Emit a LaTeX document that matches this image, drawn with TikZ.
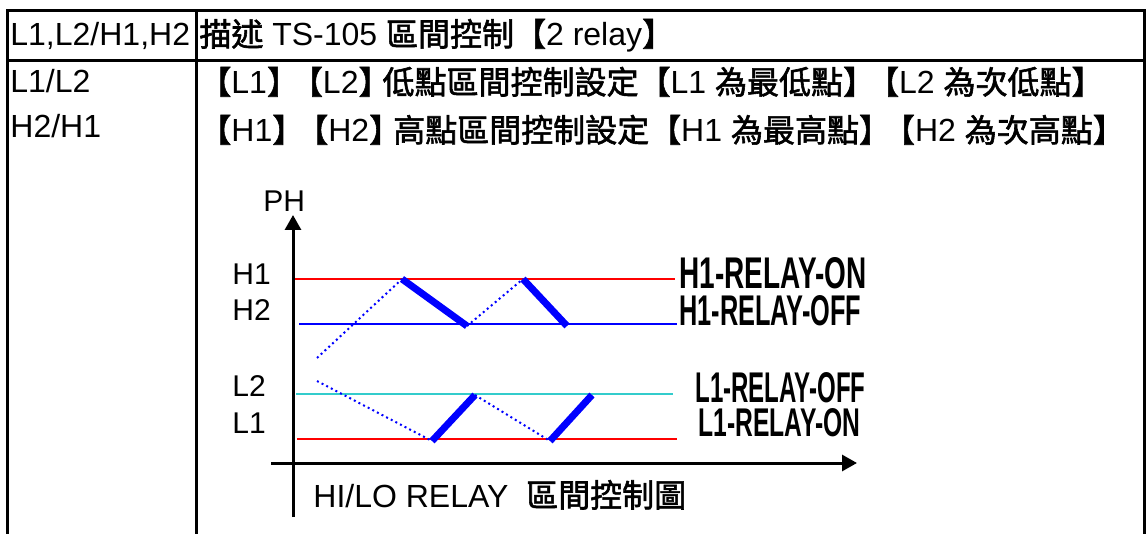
\documentclass[tikz,border=0pt]{standalone}
\usepackage{fontspec}
\usetikzlibrary{arrows.meta}
\setmainfont{Liberation Sans}
\newfontfamily\cjk{Noto Sans CJK TC}[FakeBold=1.8]
\newcommand{\zh}[1]{{\cjk #1}}
\newcommand{\bk}{\hspace{-0.25em}}
\tikzset{
  frame/.style={line width=1.5pt, black},
  txt/.style={anchor=base west, inner sep=0pt, font=\fontsize{16pt}{18pt}\selectfont},
  axislbl/.style={anchor=base west, inner sep=0pt, font=\fontsize{15pt}{17pt}\selectfont},
  axis/.style={line width=1.5pt, -{Triangle[length=7.5pt,width=8pt]}},
  lvlred/.style={line width=1pt, red},
  lvlblue/.style={line width=1pt, blue},
  lvlcyan/.style={line width=1pt, color={rgb,255:red,51;green,204;blue,204}},
  relayon/.style={line width=3.5pt, blue},
  relaydot/.style={line width=1pt, blue, dash pattern=on 1pt off 1.6pt},
  relaylbl/.style={anchor=base west, inner sep=0pt, font=\bfseries}
}
\begin{document}
\begin{tikzpicture}[x=0.5pt,y=-0.5pt]
\useasboundingbox (0,0) rectangle (1146,534);
% table frame
\coordinate (tl) at (7,11);
\coordinate (tr) at (1144,11);
\coordinate (bl) at (7,534);
\coordinate (br) at (1144,534);
\coordinate (ct) at (196,11);
\coordinate (cb) at (196,534);
\coordinate (rl) at (7,61);
\coordinate (rr) at (1144,61);
\draw[frame] (bl) -- (tl) -- (tr) -- (br);
\draw[frame] (ct) -- (cb);
\draw[frame] (rl) -- (rr);
% header row
\node[txt] (h1) at (10,46) {L1,L2/H1,H2};
\node[txt] (h2) at (199,46) {\zh{描述} TS-105 \zh{區間控制【}2 relay\zh{】}};
% second row texts
\node[txt] (r1) at (10,93) {L1/L2};
\node[txt] (r2) at (10,138) {H2/H1};
\node[txt] (d1) at (199,94) {\zh{【}L1\zh{】}\bk\zh{【}L2\zh{】}\bk\zh{低點區間控制設定【}L1 \zh{為最低點】}\bk\zh{【}L2 \zh{為次低點】}};
\node[txt] (d2) at (199,142) {\zh{【}H1\zh{】}\bk\zh{【}H2\zh{】}\bk\zh{高點區間控制設定【}H1 \zh{為最高點】}\bk\zh{【}H2 \zh{為次高點】}};
% chart axes
\coordinate (yb) at (293,517);
\coordinate (yt) at (293,215);
\coordinate (xl) at (271,463);
\coordinate (xr) at (857,463);
\draw[axis] (yb) -- (yt);
\draw[axis] (xl) -- (xr);
\node[axislbl] (ph) at (263,212) {PH};
\node[axislbl] (lh1) at (232,285) {H1};
\node[axislbl] (lh2) at (232,321) {H2};
\node[axislbl] (ll2) at (232,396) {L2};
\node[axislbl] (ll1) at (232,433) {L1};
% level lines
\coordinate (a1) at (295,279); \coordinate (a2) at (675,279);
\coordinate (b1) at (299,324); \coordinate (b2) at (677,324);
\coordinate (c1) at (296,394); \coordinate (c2) at (673,394);
\coordinate (e1) at (297,439); \coordinate (e2) at (677,439);
\draw[lvlred] (a1) -- (a2);
\draw[lvlblue] (b1) -- (b2);
\draw[lvlcyan] (c1) -- (c2);
\draw[lvlred] (e1) -- (e2);
% high relay trace
\coordinate (hs) at (317,358);
\coordinate (hp1) at (402,279);
\coordinate (hv1) at (467,326);
\coordinate (hp2) at (523,279);
\coordinate (hv2) at (567,326);
\draw[relaydot] (hs) -- (hp1);
\draw[relayon] (hp1) -- (hv1);
\draw[relaydot] (hv1) -- (hp2);
\draw[relayon] (hp2) -- (hv2);
% low relay trace
\coordinate (ls) at (317,381);
\coordinate (lv1) at (432,441);
\coordinate (lp1) at (475,395);
\coordinate (lv2) at (550,441);
\coordinate (lp2) at (592,395);
\draw[relaydot] (ls) -- (lv1);
\draw[relayon] (lv1) -- (lp1);
\draw[relaydot] (lp1) -- (lv2);
\draw[relayon] (lv2) -- (lp2);
% relay labels
\node[relaylbl] (on1) at (679,289) {\resizebox{93.5pt}{15.5pt}{H1-RELAY-ON}};
\node[relaylbl] (off1) at (679,326) {\resizebox{91pt}{15pt}{H1-RELAY-OFF}};
\node[relaylbl] (off2) at (695,402) {\resizebox{85pt}{15pt}{L1-RELAY-OFF}};
\node[relaylbl] (on2) at (698,437) {\resizebox{81pt}{14pt}{L1-RELAY-ON}};
% caption
\node[txt] (cap) at (313,507) {HI/LO RELAY \ \zh{區間控制圖}};
\end{tikzpicture}
\end{document}
